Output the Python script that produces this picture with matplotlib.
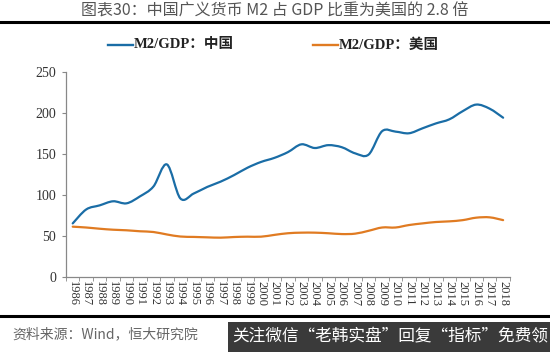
import numpy as np
import matplotlib
matplotlib.use("Agg")
import matplotlib.pyplot as plt
from matplotlib.path import Path
from matplotlib.patches import PathPatch

years = [str(y) for y in range(1986, 2019)]
china = [65, 82, 87, 92, 89.5, 98, 110, 137, 95.5, 101.5, 109.5, 116, 124, 133, 140,
         145, 152, 161.5, 157, 160.5, 158, 150.5, 149, 177.5, 177, 175, 181, 187, 192,
         202, 210, 205, 194]
usa = [61, 60, 58.5, 57.3, 56.6, 55.4, 54.5, 51.5, 49, 48.5, 48, 47.6, 48.4, 48.8, 48.8,
       51, 53, 53.7, 53.7, 53, 52, 52.5, 56, 60, 60, 63, 65, 66.7, 67.5, 69, 72, 72.4, 69]

BLUE = "#1a6da6"
ORANGE = "#e07b22"
CN = ["Noto Sans CJK SC", "DejaVu Sans"]
SERIF_CN = ["Liberation Serif", "Noto Sans CJK SC"]


def smooth_path(xs, ys):
    # Catmull-Rom spline as cubic Bezier segments
    pts = np.column_stack([xs, ys]).astype(float)
    verts = [pts[0]]
    codes = [Path.MOVETO]
    n = len(pts)
    for i in range(n - 1):
        p0 = pts[max(i - 1, 0)]
        p1 = pts[i]
        p2 = pts[i + 1]
        p3 = pts[min(i + 2, n - 1)]
        c1 = p1 + (p2 - p0) / 6.0
        c2 = p2 - (p3 - p1) / 6.0
        verts += [c1, c2, p2]
        codes += [Path.CURVE4] * 3
    return Path(verts, codes)


fig = plt.figure(figsize=(5.5, 3.52), dpi=100)
ax = fig.add_axes([0.12, 0.214, 0.807, 0.582])

x = np.arange(len(years))
for vals, col in [(china, BLUE), (usa, ORANGE)]:
    ax.add_patch(PathPatch(smooth_path(x, vals), facecolor="none", edgecolor=col,
                           lw=1.6, capstyle="round", joinstyle="round"))

ax.set_xlim(-0.5, len(years) - 0.5)
ax.set_ylim(0, 250)
ax.set_yticks(range(0, 251, 50))
ax.set_xticks(x)
ax.set_xticklabels(years, rotation=270, fontsize=9, family="Liberation Serif", color="#333333")
ax.set_xticks(np.arange(-0.5, len(years), 1), minor=True)
ax.tick_params(axis="x", which="major", length=0, pad=3)
ax.tick_params(axis="x", which="minor", length=3, direction="out", color="#888888")
ax.tick_params(axis="y", length=3, direction="out", color="#888888", pad=4)
for lab in ax.get_yticklabels():
    lab.set_family("Liberation Serif")
    lab.set_fontsize(10)
    lab.set_color("#333333")
for s in ["top", "right"]:
    ax.spines[s].set_visible(False)
for s in ["left", "bottom"]:
    ax.spines[s].set_color("#888888")
    ax.spines[s].set_linewidth(0.9)

# title and rules
fig.text(0.5, 0.968, "图表30：中国广义货币 M2 占 GDP 比重为美国的 2.8 倍", ha="center", va="center",
         fontsize=11.5, color="#555555", family=CN)
fig.add_artist(plt.Line2D([0, 1], [0.937, 0.937], color="black", lw=2.2))
fig.add_artist(plt.Line2D([0, 1], [0.102, 0.102], color="black", lw=2.2))

# legend
fig.add_artist(plt.Line2D([108 / 550, 133 / 550], [0.873, 0.873], color=BLUE, lw=1.7))
fig.text(134 / 550, 0.873, "M2/GDP：中国", ha="left", va="center", fontsize=10.5,
         fontweight="bold", family=SERIF_CN, color="#222222")
fig.add_artist(plt.Line2D([313 / 550, 338 / 550], [0.873, 0.873], color=ORANGE, lw=1.7))
fig.text(339 / 550, 0.873, "M2/GDP：美国", ha="left", va="center", fontsize=10.5,
         fontweight="bold", family=SERIF_CN, color="#222222")

# source
fig.text(12 / 550, 0.05, "资料来源：Wind，恒大研究院", ha="left", va="center", fontsize=10,
         style="italic", color="#666666", family=CN)

# watermark banner
fig.patches.append(plt.Rectangle((228 / 550, 0), 322 / 550, 0.085, transform=fig.transFigure,
                                 facecolor="#3a3a3a", edgecolor="none"))
fig.text(390 / 550, 0.042, "关注微信“老韩实盘”回复“指标”免费领", ha="center", va="center",
         fontsize=12, color="white", family=CN)

fig.savefig("out.png", dpi=100)
